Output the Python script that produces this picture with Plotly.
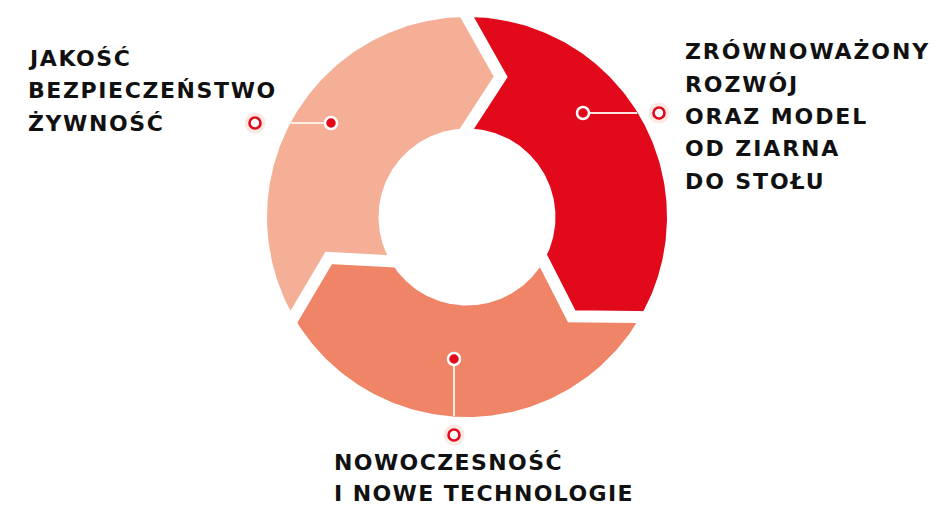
import numpy as np
import plotly.graph_objects as go

# ---------------- data ----------------
categories = ["Zrównoważony rozwój", "Nowoczesność", "Jakość"]
label_lines = [
    ["ZRÓWNOWAŻONY", "ROZWÓJ", "ORAZ MODEL", "OD ZIARNA", "DO STOŁU"],
    ["NOWOCZESNOŚĆ", "I NOWE TECHNOLOGIE"],
    ["JAKOŚĆ", "BEZPIECZEŃSTWO", "ŻYWNOŚĆ"],
]
shares = [1, 1, 1]
colors = ["#E20A1A", "#F08466", "#F5AF96"]

# ---------------- layout constants (pixels) ----------------
W, H = 937, 506
CX, CY = 467, 217
R_OUT, R_IN = 200, 88.5
R_MID = (R_OUT + R_IN) / 2
TIP = 13.5          # degrees the arrow head protrudes clockwise
GAP = 12            # white gap width
# marker anchor (dot in segment) and outer ring, per category
dot_pos = [(583, 113), (454, 359), (331, 123)]
ring_pos = [(659, 113), (454, 435), (255, 123)]
# text block: left x, first baseline
text_pos = [(683, 60), (332, 470.5), (26, 66.5)]
LINE_H = [32.3, 31.5, 32.3]
FONT_SIZE = 22
LETTER_SP = [1.9, 1.4, 1.6]
RED = "#E20A1A"


def pt(r, deg):
    a = np.deg2rad(deg)
    return CX + r * np.cos(a), CY - r * np.sin(a)


fig = go.Figure()

total = sum(shares)
start = 90.0
bounds = []
for cat, val, col in zip(categories, shares, colors):
    span = 360.0 * val / total
    ts, te = start, start - span
    bounds.append(ts)
    th_out = np.linspace(ts, te, 160)
    th_in = np.linspace(te, ts, 160)
    xs, ys = [], []
    for t in th_out:
        x, y = pt(R_OUT, t); xs.append(x); ys.append(y)
    x, y = pt(R_MID, te - TIP); xs.append(x); ys.append(y)
    for t in th_in:
        x, y = pt(R_IN, t); xs.append(x); ys.append(y)
    x, y = pt(R_MID, ts - TIP); xs.append(x); ys.append(y)
    xs.append(xs[0]); ys.append(ys[0])
    fig.add_trace(go.Scatter(x=xs, y=ys, mode="lines", fill="toself",
                             fillcolor=col, line=dict(width=0, color=col),
                             hoverinfo="text", text=cat, showlegend=False))
    start = te

# white chevron gaps between segments
for tb in bounds:
    pin = np.array(pt(R_IN, tb))
    pmid = np.array(pt(R_MID, tb - TIP))
    pout = np.array(pt(R_OUT, tb))
    pin2 = pin + (pin - pmid) * 0.25
    pout2 = pout + (pout - pmid) * 0.25
    fig.add_trace(go.Scatter(x=[pin2[0], pmid[0], pout2[0]],
                             y=[pin2[1], pmid[1], pout2[1]],
                             mode="lines", line=dict(color="white", width=GAP),
                             hoverinfo="skip", showlegend=False))

# leader lines (from dot to outer edge of ring)
for (dx, dy), (rx, ry) in zip(dot_pos, ring_pos):
    ts_ = np.linspace(0, 1, 400)
    px = dx + (rx - dx) * ts_
    py = dy + (ry - dy) * ts_
    inside = np.hypot(px - CX, py - CY) <= R_OUT - 0.5
    k = np.where(inside)[0].max()
    fig.add_trace(go.Scatter(x=[dx, px[k]], y=[dy, py[k]], mode="lines",
                             line=dict(color="rgba(255,240,235,0.95)", width=2),
                             hoverinfo="skip", showlegend=False))

# dots on segments
fig.add_trace(go.Scatter(x=[p[0] for p in dot_pos], y=[p[1] for p in dot_pos],
                         mode="markers",
                         marker=dict(size=12, color=RED, line=dict(color="white", width=2.5)),
                         hoverinfo="skip", showlegend=False))
# halos + rings outside
fig.add_trace(go.Scatter(x=[p[0] for p in ring_pos], y=[p[1] for p in ring_pos],
                         mode="markers", marker=dict(size=21, color="#FCE9E3", line=dict(width=0)),
                         hoverinfo="skip", showlegend=False))
fig.add_trace(go.Scatter(x=[p[0] for p in ring_pos], y=[p[1] for p in ring_pos],
                         mode="markers",
                         marker=dict(size=11, color="white", line=dict(color=RED, width=2.6)),
                         hoverinfo="skip", showlegend=False))

# labels
cap_mid = 0.365 * FONT_SIZE
for lines, (lx, by), lh, ls in zip(label_lines, text_pos, LINE_H, LETTER_SP):
    for i, line in enumerate(lines):
        fig.add_annotation(x=lx, y=by + i * lh - cap_mid, xref="x", yref="y",
                           text='<span style="letter-spacing:%.1fpx">' % ls + line + "</span>",
                           showarrow=False, xanchor="left", yanchor="middle",
                           font=dict(family="DejaVu Sans", size=FONT_SIZE,
                                     color="#111111", weight="bold"))

fig.update_xaxes(range=[0, W], visible=False, fixedrange=True)
fig.update_yaxes(range=[H, 0], visible=False, fixedrange=True)
fig.update_layout(width=W, height=H, margin=dict(l=0, r=0, t=0, b=0),
                  paper_bgcolor="white", plot_bgcolor="white", showlegend=False)

fig.write_html("out.html", config={"displayModeBar": False},
               post_script="document.body.style.margin='0';document.body.style.overflow='hidden';")
